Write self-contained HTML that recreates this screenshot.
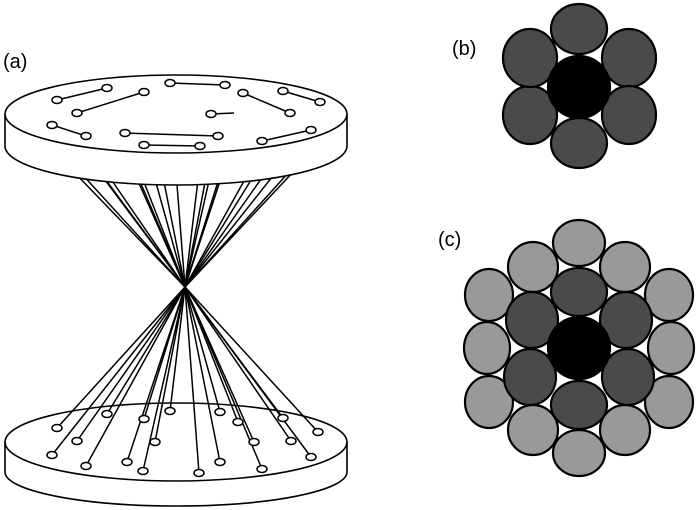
<!DOCTYPE html><html><head><style>body{margin:0;background:#fff}svg{display:block}text{font-family:"Liberation Sans",sans-serif;font-size:20px}</style></head><body>
<svg width="700" height="510" viewBox="0 0 700 510" xmlns="http://www.w3.org/2000/svg">
<text x="3" y="68">(a)</text><text x="452" y="55">(b)</text><text x="438" y="246">(c)</text>
<g stroke="#000" stroke-width="1.6" fill="none">
<g stroke-width="1.5">
<polyline points="289,172 185,287 57,428"/><polyline points="266,172 185,287 77,441"/><polyline points="276,172 185,287 52,455"/><polyline points="249,172 185,287 86,466"/>
<polyline points="256,172 185,287 107,414"/><polyline points="221,172 185,287 144,419"/><polyline points="207,172 185,287 155,442"/><polyline points="223,172 185,287 127,462"/>
<polyline points="211,172 185,287 143,471"/><polyline points="199,172 185,287 170,411"/><polyline points="176,172 185,287 199,473"/><polyline points="153,172 185,287 220,412"/>
<polyline points="140,172 185,287 238,422"/><polyline points="162,172 185,287 220,462"/><polyline points="134,172 185,287 254,442"/><polyline points="136,172 185,287 262,469"/>
<polyline points="99,172 185,287 283,418"/><polyline points="106,172 185,287 291,441"/><polyline points="80,172 185,287 318,432"/><polyline points="100,172 185,287 311,457"/>
<polyline points="72,170 185,287"/><polyline points="295,170 185,287"/>
</g>
<path d="M5 114 V146 A171 39 0 0 0 347 146 V114" fill="#fff"/>
<ellipse cx="176" cy="114" rx="171" ry="39" fill="#fff"/>
<g stroke-width="1.5">
<line x1="57" y1="100" x2="107" y2="88"/><line x1="77" y1="113" x2="144" y2="92"/><line x1="52" y1="125" x2="86" y2="136"/><line x1="125" y1="133" x2="218" y2="136"/><line x1="144" y1="145" x2="200" y2="146"/><line x1="170" y1="83" x2="225" y2="85"/><line x1="243" y1="93" x2="290" y2="113"/><line x1="283" y1="91" x2="320" y2="102"/><line x1="262" y1="141" x2="311" y2="130"/><line x1="211" y1="114" x2="234" y2="113"/>
</g>
<g fill="#fff" stroke-width="1.5">
<ellipse cx="57" cy="100" rx="5" ry="3.5"/><ellipse cx="107" cy="88" rx="5" ry="3.5"/><ellipse cx="77" cy="113" rx="5" ry="3.5"/><ellipse cx="144" cy="92" rx="5" ry="3.5"/><ellipse cx="52" cy="125" rx="5" ry="3.5"/><ellipse cx="86" cy="136" rx="5" ry="3.5"/><ellipse cx="125" cy="133" rx="5" ry="3.5"/><ellipse cx="218" cy="136" rx="5" ry="3.5"/><ellipse cx="144" cy="145" rx="5" ry="3.5"/><ellipse cx="200" cy="146" rx="5" ry="3.5"/><ellipse cx="170" cy="83" rx="5" ry="3.5"/><ellipse cx="225" cy="85" rx="5" ry="3.5"/><ellipse cx="243" cy="93" rx="5" ry="3.5"/><ellipse cx="290" cy="113" rx="5" ry="3.5"/><ellipse cx="283" cy="91" rx="5" ry="3.5"/><ellipse cx="320" cy="102" rx="5" ry="3.5"/><ellipse cx="262" cy="141" rx="5" ry="3.5"/><ellipse cx="311" cy="130" rx="5" ry="3.5"/><ellipse cx="211" cy="114" rx="5" ry="3.5"/>
</g>
<path d="M5 442 V472 A171 34 0 0 0 347 472 V442"/>
<path d="M5 442 A171 39 0 0 1 347 442"/>
<path d="M5 442 A171 39 0 0 0 347 442"/>
<g fill="#fff" stroke-width="1.5">
<ellipse cx="57" cy="428" rx="5" ry="3.5"/><ellipse cx="77" cy="441" rx="5" ry="3.5"/><ellipse cx="52" cy="455" rx="5" ry="3.5"/><ellipse cx="86" cy="466" rx="5" ry="3.5"/><ellipse cx="107" cy="414" rx="5" ry="3.5"/><ellipse cx="144" cy="419" rx="5" ry="3.5"/><ellipse cx="155" cy="442" rx="5" ry="3.5"/><ellipse cx="127" cy="462" rx="5" ry="3.5"/><ellipse cx="143" cy="471" rx="5" ry="3.5"/><ellipse cx="170" cy="411" rx="5" ry="3.5"/><ellipse cx="199" cy="473" rx="5" ry="3.5"/><ellipse cx="220" cy="412" rx="5" ry="3.5"/><ellipse cx="238" cy="422" rx="5" ry="3.5"/><ellipse cx="220" cy="462" rx="5" ry="3.5"/><ellipse cx="254" cy="442" rx="5" ry="3.5"/><ellipse cx="262" cy="469" rx="5" ry="3.5"/><ellipse cx="283" cy="418" rx="5" ry="3.5"/><ellipse cx="291" cy="441" rx="5" ry="3.5"/><ellipse cx="318" cy="432" rx="5" ry="3.5"/><ellipse cx="311" cy="457" rx="5" ry="3.5"/>
</g>
</g>
<g stroke="#000" stroke-width="2.2">
<g fill="#4a4a4a">
<ellipse cx="579" cy="29" rx="28" ry="25"/><ellipse cx="629" cy="58" rx="27" ry="29"/><ellipse cx="629" cy="115" rx="27" ry="29"/><ellipse cx="579" cy="143" rx="28" ry="25"/><ellipse cx="530" cy="115" rx="27" ry="29"/><ellipse cx="530" cy="58" rx="27" ry="29"/>
</g>
<circle cx="579" cy="87" r="31" fill="#000"/>
<g fill="#999">
<ellipse cx="579" cy="243" rx="26" ry="23"/><ellipse cx="533" cy="267" rx="25" ry="25"/><ellipse cx="625" cy="267" rx="25" ry="25"/><ellipse cx="489" cy="295" rx="24" ry="26"/><ellipse cx="669" cy="295" rx="24" ry="26"/><ellipse cx="487" cy="348" rx="23" ry="26"/><ellipse cx="671" cy="348" rx="23" ry="26"/><ellipse cx="489" cy="402" rx="24" ry="26"/><ellipse cx="669" cy="402" rx="24" ry="26"/><ellipse cx="533" cy="430" rx="25" ry="25"/><ellipse cx="625" cy="430" rx="25" ry="25"/><ellipse cx="579" cy="453" rx="26" ry="23"/>
</g>
<g fill="#4a4a4a">
<ellipse cx="579" cy="292" rx="28" ry="24"/><ellipse cx="579" cy="405" rx="28" ry="24"/><ellipse cx="532" cy="320" rx="26" ry="28"/><ellipse cx="626" cy="320" rx="26" ry="28"/><ellipse cx="530" cy="377" rx="26" ry="28"/><ellipse cx="628" cy="377" rx="26" ry="28"/>
</g>
<circle cx="579" cy="348" r="31" fill="#000"/>
</g>
</svg></body></html>
